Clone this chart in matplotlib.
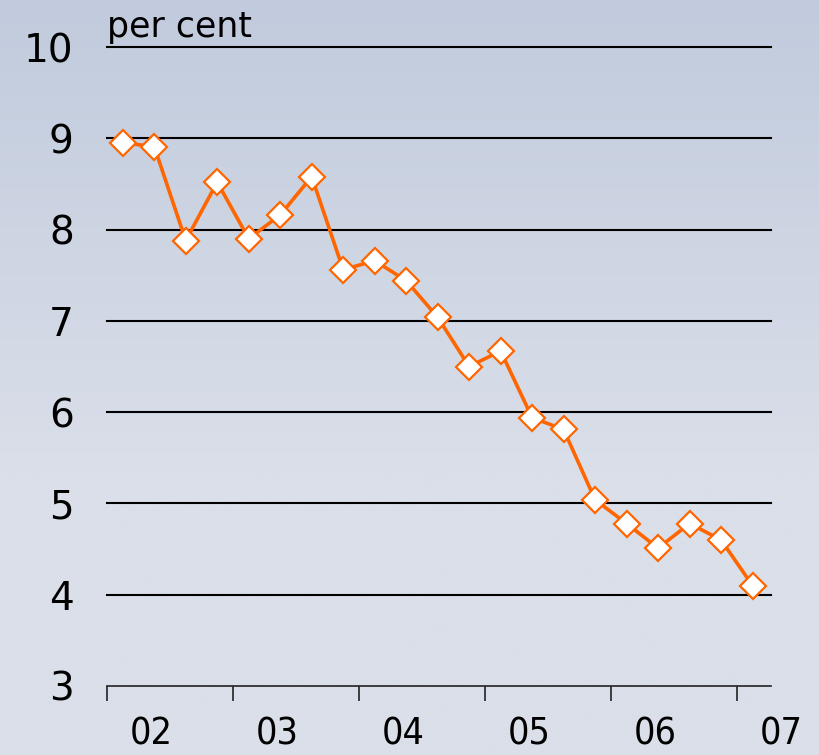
import matplotlib.pyplot as plt
import matplotlib.transforms as mtransforms
import numpy as np

# quarterly rate, 2002 Q1 to 2007 Q1
rate = [8.95, 8.91, 7.88, 8.52, 7.90, 8.16, 8.58, 7.56, 7.66, 7.44, 7.04,
        6.50, 6.67, 5.94, 5.81, 5.04, 4.78, 4.51, 4.78, 4.60, 4.10]
years = [2002, 2003, 2004, 2005, 2006, 2007]
year_labels = ['02', '03', '04', '05', '06', '07']
y_ticks = [3, 4, 5, 6, 7, 8, 9, 10]

x = [2002 + (i + 0.5) / 4 for i in range(len(rate))]

fig = plt.figure(figsize=(8.2, 7.55), dpi=100)

# background gradient
bg = fig.add_axes([0, 0, 1, 1], zorder=-10)
grad = np.linspace(0, 1, 256).reshape(-1, 1)
top = np.array([193, 203, 221]) / 255
bot = np.array([218, 223, 233]) / 255
img = top + (bot - top) * np.clip(grad * 1.6, 0, 1)[:, :, None]
bg.imshow(img.reshape(256, 1, 3), aspect='auto', extent=[0, 1, 0, 1])
bg.axis('off')

ax = fig.add_axes([0.1305, 0.0914, 0.8095, 0.8463])
ax.patch.set_alpha(0)
for s in ['top', 'right', 'left']:
    ax.spines[s].set_visible(False)
ax.spines['bottom'].set_linewidth(1.2)
ax.spines['bottom'].set_color('#222222')

for v in y_ticks[1:]:
    ax.axhline(v, color='black', lw=1.5, zorder=1, clip_on=False)

ax.plot(x, rate, color='#ff6600', lw=2.6, marker='D', markersize=13,
        markerfacecolor='white', markeredgecolor='#ff6600', markeredgewidth=1.6,
        zorder=3, clip_on=False)

ax.set_yticks(y_ticks)
ax.set_yticklabels([str(v) for v in y_ticks], fontsize=28, family='DejaVu Sans')
ax.tick_params(axis='y', length=0, pad=24)

ax.set_xticks(years)
ax.set_xticklabels([])
ax.tick_params(axis='x', which='major', length=11, width=1.2, direction='out', color='#222222')

ax.set_xlim(2002, 2002 + (771 - 107) / 126)
ax.set_ylim(3, 10)

# year labels sit to the right of each tick
trans = mtransforms.blended_transform_factory(ax.transData, ax.transAxes)
for yr, lab in zip(years, year_labels):
    ax.text(yr + 0.35, -0.0923, lab, transform=trans, fontsize=27,
            fontstretch='condensed', family='DejaVu Sans',
            ha='center', va='baseline', clip_on=False)

ax.text(0, 1.005, 'per cent', transform=ax.transAxes, fontsize=25,
        family='DejaVu Sans', ha='left', va='bottom')

fig.savefig('out.png', dpi=100)
